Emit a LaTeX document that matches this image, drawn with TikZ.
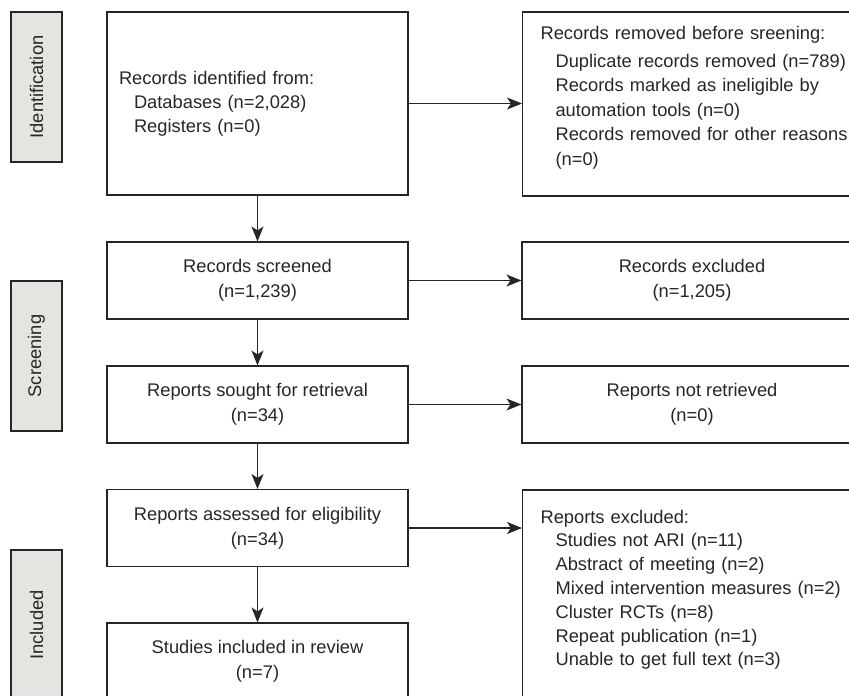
\documentclass[tikz,border=0pt]{standalone}
\usepackage{fontspec}
\setmainfont{Liberation Sans}
\usetikzlibrary{arrows.meta}
\definecolor{ink}{HTML}{262626}
\definecolor{barfill}{HTML}{E3E5E0}
\tikzset{
  box/.style={draw=ink,line width=1.1pt,text=ink,inner sep=0pt,
    minimum width=301pt,minimum height=77pt,align=center,
    font=\fontsize{18.3}{25}\selectfont},
  listbox/.style={box,align=left,inner xsep=18pt,text width=330pt,anchor=west},
  phase/.style={draw=ink,fill=barfill,line width=1.1pt,text=ink,inner sep=0pt,
    minimum width=150pt,minimum height=51pt,rotate=90,
    font=\fontsize{18.3}{24.5}\selectfont},
  arr/.style={draw=ink,line width=1.1pt,-{Stealth[length=15pt,width=12pt,inset=4pt]}}
}
\newcommand{\ind}{\hspace*{15pt}}
\begin{document}
\begin{tikzpicture}[x=1pt,y=-1pt]
  \useasboundingbox (0,0) rectangle (849,696); % 画像の大きさに合わせる
  \clip (0,0) rectangle (849,696); % 右端と下端ではみ出す枠を切る
  \node[phase] (idbar) at (36.5,87) {Identification}; % 左側の段階ラベル
  \node[phase] (scbar) at (36.5,356) {Screening};
  \node[phase] (inbar) at (36.5,625) {Included};
  \node[box,align=left,inner xsep=12pt,text width=277pt,minimum height=183pt,
    font=\fontsize{18.3}{24}\selectfont]
    (ident) at (257.5,103.5) {Records identified from:\\
      \ind Databases (n=2,028)\\
      \ind Registers (n=0)}; % 左列の一番上の枠
  \node[box] (screened) at (257.5,280.5) {Records screened\\(n=1,239)};
  \node[box] (sought) at (257.5,404.5) {Reports sought for retrieval\\(n=34)};
  \node[box] (assessed) at (257.5,528) {Reports assessed for eligibility\\(n=34)};
  \node[box] (included) at (257.5,661.5) {Studies included in review\\(n=7)}; % 下端で切れる
  \node[listbox,minimum height=184pt,text depth=142pt,
    font=\fontsize{18.3}{24.5}\selectfont] (removed) at (522,104)
    {Records removed before sreening:\\[3pt]
      \ind Duplicate records removed (n=789)\\
      \ind Records marked as ineligible by\\
      \ind automation tools (n=0)\\
      \ind Records removed for other reasons\\
      \ind (n=0)}; % 右列の一番上の枠（右端で切れる）
  \node[box,minimum width=340pt] (excluded) at (692,280.5) {Records excluded\\(n=1,205)};
  \node[box,minimum width=340pt] (notret) at (692,404.5) {Reports not retrieved\\(n=0)};
  \node[listbox,minimum height=210pt,text depth=157pt,
    font=\fontsize{18.3}{23.8}\selectfont] (repexcl) at (522,595)
    {Reports excluded:\\
      \ind Studies not ARI (n=11)\\
      \ind Abstract of meeting (n=2)\\
      \ind Mixed intervention measures (n=2)\\
      \ind Cluster RCTs (n=8)\\
      \ind Repeat publication (n=1)\\
      \ind Unable to get full text (n=3)}; % 下端・右端で切れる
  \draw[arr] (ident) -- (screened); % 縦の矢印
  \draw[arr] (screened) -- (sought);
  \draw[arr] (sought) -- (assessed);
  \draw[arr] (assessed) -- (included);
  \draw[arr] (ident.east) -- (ident.east -| removed.west); % 横の矢印
  \draw[arr] (screened) -- (excluded);
  \draw[arr] (sought) -- (notret);
  \draw[arr] (assessed.east) -- (assessed.east -| repexcl.west);
\end{tikzpicture}
\end{document}
